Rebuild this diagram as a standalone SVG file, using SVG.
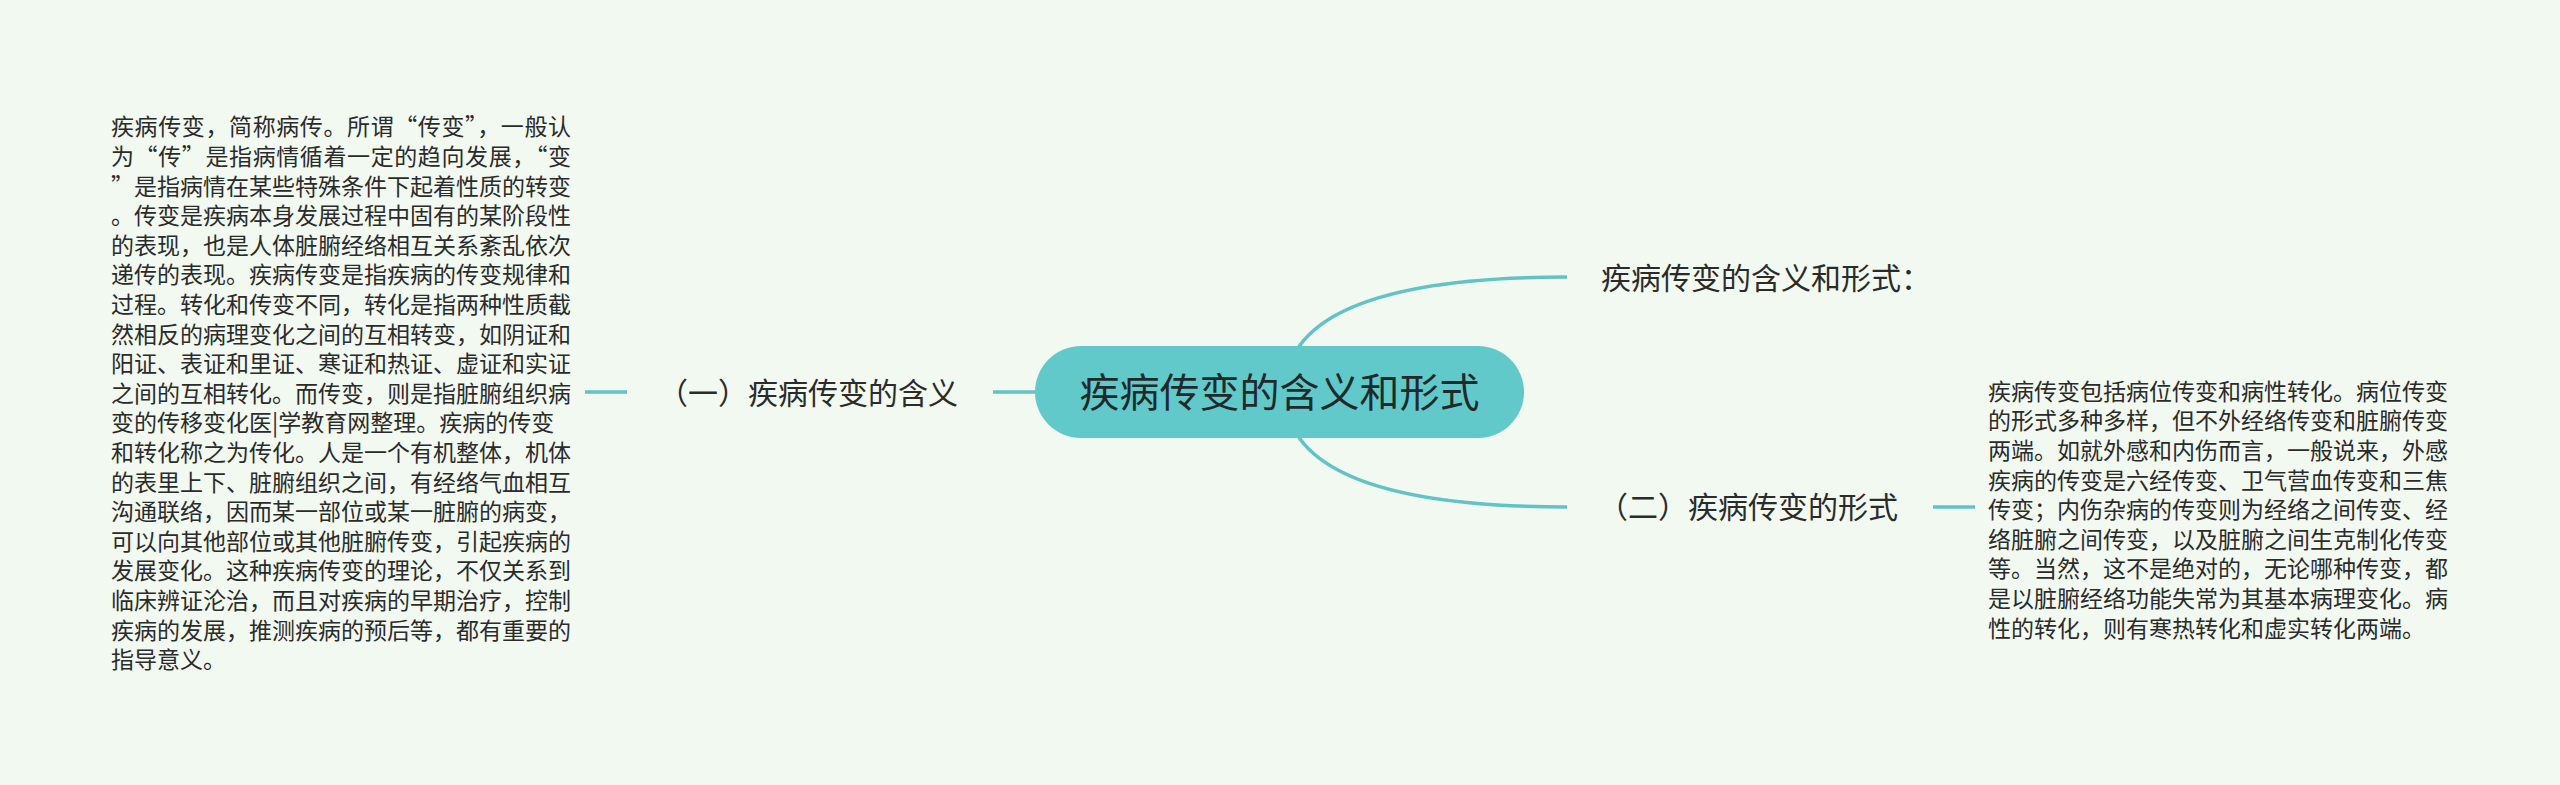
<svg xmlns="http://www.w3.org/2000/svg" width="2560" height="785" viewBox="0 0 2560 785">
<style>
.bg{fill:#F1F9F1}
.ln{fill:none;stroke:#62C3C6;stroke-width:3.5;stroke-linecap:butt}
.t{font-family:"Noto Sans CJK SC","Noto Sans",sans-serif;fill:#2b2b2b}
.body{font-size:23px}
.lbl{font-size:30px}
.root{font-size:40px;fill:#1f2a2a}
</style>
<rect class="bg" x="0" y="0" width="2560" height="785"/>
<g id="connectors">
<path class="ln" d="M1285,392 Q1285,277 1567,277"/>
<path class="ln" d="M1285,392 Q1285,507 1567,507"/>
<path class="ln" d="M993,392 L1100,392"/>
<path class="ln" d="M585,392 L627,392"/>
<path class="ln" d="M1933,507 L1975,507"/>
</g>
<g id="root">
<rect x="1035" y="346" width="489" height="92" rx="46" ry="46" fill="#62C9CB"/>
<text class="t root" x="1279.5" y="407" text-anchor="middle">疾病传变的含义和形式</text>
</g>
<g id="n-meaning">
<text class="t lbl" x="958" y="404.4" text-anchor="end">（一）疾病传变的含义</text>
</g>
<g id="n-title">
<text class="t lbl" x="1601" y="289.4">疾病传变的含义和形式：</text>
</g>
<g id="n-form">
<text class="t lbl" x="1898" y="518.4" text-anchor="end">（二）疾病传变的形式</text>
</g>
<g id="n-meaning-text">
<text class="t body">
<tspan x="111" y="135.4" textLength="460" lengthAdjust="spacing">疾病传变，简称病传。所谓“传变”，一般认</tspan>
<tspan x="111" y="165" textLength="460" lengthAdjust="spacing">为“传”是指病情循着一定的趋向发展，“变</tspan>
<tspan x="111" y="194.6" textLength="460" lengthAdjust="spacing">”是指病情在某些特殊条件下起着性质的转变</tspan>
<tspan x="111" y="224.2">。传变是疾病本身发展过程中固有的某阶段性</tspan>
<tspan x="111" y="253.8">的表现，也是人体脏腑经络相互关系紊乱依次</tspan>
<tspan x="111" y="283.4">递传的表现。疾病传变是指疾病的传变规律和</tspan>
<tspan x="111" y="313">过程。转化和传变不同，转化是指两种性质截</tspan>
<tspan x="111" y="342.6">然相反的病理变化之间的互相转变，如阴证和</tspan>
<tspan x="111" y="372.2">阳证、表证和里证、寒证和热证、虚证和实证</tspan>
<tspan x="111" y="401.8">之间的互相转化。而传变，则是指脏腑组织病</tspan>
<tspan x="111" y="431.4">变的传移变化医|学教育网整理。疾病的传变</tspan>
<tspan x="111" y="461">和转化称之为传化。人是一个有机整体，机体</tspan>
<tspan x="111" y="490.6">的表里上下、脏腑组织之间，有经络气血相互</tspan>
<tspan x="111" y="520.2">沟通联络，因而某一部位或某一脏腑的病变，</tspan>
<tspan x="111" y="549.8">可以向其他部位或其他脏腑传变，引起疾病的</tspan>
<tspan x="111" y="579.4">发展变化。这种疾病传变的理论，不仅关系到</tspan>
<tspan x="111" y="609">临床辨证沦治，而且对疾病的早期治疗，控制</tspan>
<tspan x="111" y="638.6">疾病的发展，推测疾病的预后等，都有重要的</tspan>
<tspan x="111" y="668.2">指导意义。</tspan>
</text>
</g>
<g id="n-form-text">
<text class="t body">
<tspan x="1988" y="399.7">疾病传变包括病位传变和病性转化。病位传变</tspan>
<tspan x="1988" y="429.3">的形式多种多样，但不外经络传变和脏腑传变</tspan>
<tspan x="1988" y="458.9">两端。如就外感和内伤而言，一般说来，外感</tspan>
<tspan x="1988" y="488.5">疾病的传变是六经传变、卫气营血传变和三焦</tspan>
<tspan x="1988" y="518.1">传变；内伤杂病的传变则为经络之间传变、经</tspan>
<tspan x="1988" y="547.7">络脏腑之间传变，以及脏腑之间生克制化传变</tspan>
<tspan x="1988" y="577.3">等。当然，这不是绝对的，无论哪种传变，都</tspan>
<tspan x="1988" y="606.9">是以脏腑经络功能失常为其基本病理变化。病</tspan>
<tspan x="1988" y="636.5">性的转化，则有寒热转化和虚实转化两端。</tspan>
</text>
</g>
</svg>
